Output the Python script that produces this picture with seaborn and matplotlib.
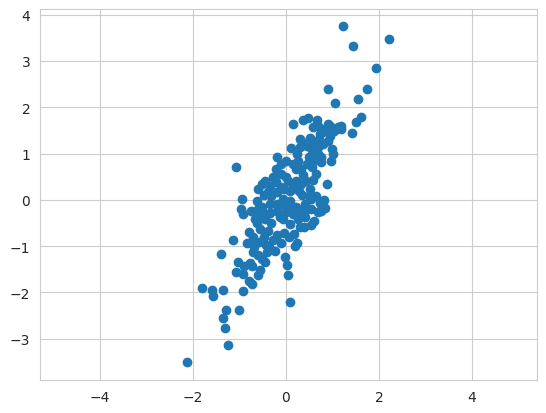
import matplotlib
matplotlib.use("Agg")
import matplotlib.pyplot as plt
import seaborn as sns
import numpy as np

x_vals = [
    1.23, 1.44, 2.22, 1.94, 0.90, 1.74, 1.55, 1.05, 1.61, 1.51, 1.18, 1.42, 1.18, 0.15,
    -1.08, -0.95, -0.97, -0.92, -1.14, -1.40, -1.03, -1.08, -0.92, -1.81, -1.59, -1.57,
    -1.35, -0.92, -1.01, -1.29, -1.35, -1.31, -1.25, -2.13, 0.09, 0.04, 0.02, -0.02, 0.24, 0.19,
    0.82, 0.82, 0.88, 0.99, 1.01, 0.97, 0.95, 0.84, 0.73, 0.90,
    0.37, 0.47, 0.67, 0.58, 0.69, 0.77, 0.86, 0.71, 0.52, 0.30, 0.37, 0.58, 0.56, 0.69, 0.75,
    0.11, -0.19, 0.00, 0.26, 0.32, 0.37, 0.43, 0.58, 0.52, 0.28, 0.15, 0.04, -0.11, -0.21,
    -0.28, -0.45, -0.52, -0.60, -0.39, -0.19, -0.06, 0.09, -0.34, -0.52, -0.60, -0.45, -0.32,
    -0.13, 0.00, 0.15, 0.30, 0.41, 0.54, 0.30, 0.17, -0.04, -0.19, -0.39, -0.56, -0.71, -0.80,
    -0.84, -0.69, -0.43, -0.60, -0.73, -0.56, -0.60, -0.77, -0.80, -0.73, -0.90, -0.37, -0.41,
    -0.19, -0.06, 0.09, 0.22, 0.41, 0.54, 0.65, 0.73, 0.77, 0.69, 0.49, 0.34, 0.22, 0.32, 0.09,
    -0.11, -0.34, -0.47, -0.62, -0.49, -0.34, -0.19, -0.04, 0.13, 0.26, 0.39, 0.06, -0.11, -0.28,
    -0.47, -0.62, -0.45, -0.52, -0.73, -0.71, -0.58, -0.24, 0.22, 0.45, 0.56, 0.62, 0.49, 0.24,
    0.30, 0.45, 0.69, 0.80, 0.90, 1.03, 1.12, 0.95, 0.75, 0.65, 0.54, 0.43, 0.60, 0.75, 0.84,
    -0.11, 0.15, -0.32, -0.21, 0.00, -0.04, -0.60, -0.75, -0.67,
]
y_vals = [
    3.76, 3.33, 3.48, 2.85, 2.40, 2.40, 2.18, 2.10, 1.79, 1.68, 1.60, 1.45, 1.53, 1.64,
    0.71, 0.02, -0.19, -0.30, -0.86, -1.17, -1.34, -1.56, -1.60, -1.90, -1.94, -2.07,
    -1.94, -1.97, -2.38, -2.38, -2.55, -2.76, -3.13, -3.50, -2.20, -1.62, -1.40, -1.23, -0.93, -0.99,
    0.00, -0.17, 0.35, 1.10, 0.99, 0.84, 1.60, 1.53, 1.43, 1.64,
    1.73, 1.77, 1.73, 1.58, 1.60, 1.47, 1.49, 1.32, 1.34, 1.32, 1.23, 1.23, 1.08, 0.99, 0.93,
    1.12, 0.93, 0.84, 0.84, 0.67, 0.54, 0.41, 0.43, 0.24, 0.19, 0.30, 0.41, 0.56, 0.67,
    0.50, 0.41, 0.35, 0.24, 0.17, 0.17, 0.02, -0.02, -0.09, -0.15, -0.32, -0.41, -0.50,
    -0.37, -0.26, -0.30, -0.24, -0.37, -0.54, -0.58, -0.73, -0.71, -0.76, -0.67, -0.63, -0.80, -0.69,
    -0.93, -1.02, -0.97, -1.19, -1.43, -1.51, -1.62, -1.36, -1.75, -1.81, -1.43, -1.02, -1.12,
    -0.24, -0.41, -0.52, -0.15, -0.09, -0.19, 0.09, -0.06, -0.15, -0.26, 0.09, 0.11, 0.41, 0.35, 0.19,
    0.28, 0.30, 0.11, -0.02, -0.26, -0.28, -0.09, -0.11, -0.19, -0.41, -0.58, -0.80, -0.93, -0.86,
    -0.80, -0.50, -1.34, -1.27, -0.93, -1.12, -0.91, -1.10, 0.67, 0.78, 0.71, 0.86, 0.93, 0.99,
    1.14, 1.17, 1.14, 1.21, 1.27, 1.49, 1.58, 1.38, 0.82, 0.56, 0.02, -0.19, -0.45, -0.24, -0.17,
    0.78, 0.78, 0.09, 0.39, 0.50, 0.24, -0.19, -0.24, -0.41,
]

sns.set_style("whitegrid")
fig = plt.figure(figsize=(5.46, 4.14), dpi=100)
ax = fig.add_axes([40 / 546, 33 / 414, 497 / 546, 371 / 414])
sns.scatterplot(x=x_vals, y=y_vals, ax=ax, s=36, color="#1f77b4",
                edgecolor="#1f77b4", linewidth=1.0, alpha=1.0)
ax.set_xlim(-5.29, 5.40)
ax.set_ylim(-3.89, 4.12)
ax.set_xticks([-4, -2, 0, 2, 4])
ax.set_yticks([-3, -2, -1, 0, 1, 2, 3, 4])
ax.tick_params(labelsize=10)
fig.savefig("out.png", dpi=100)
